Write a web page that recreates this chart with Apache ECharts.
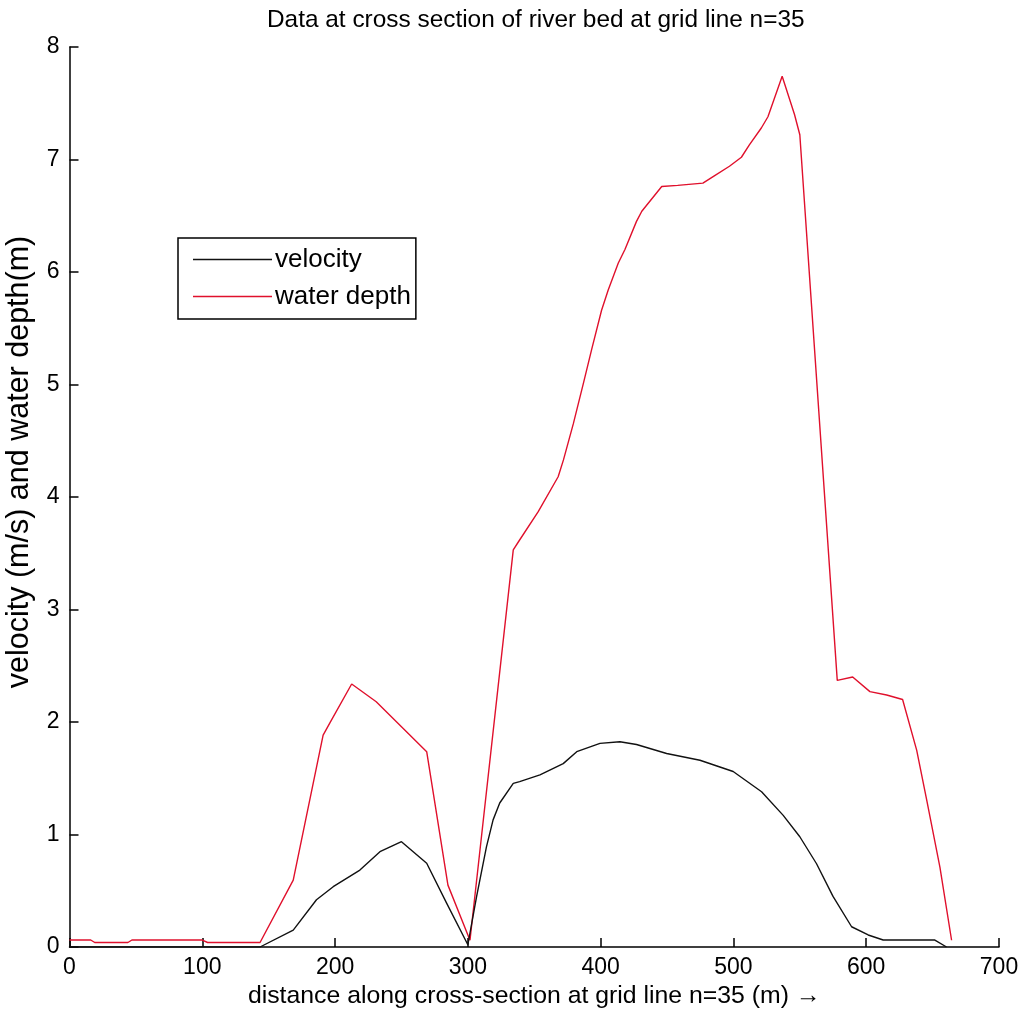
<!DOCTYPE html>
<html>
<head>
<meta charset="utf-8">
<script src="https://cdn.jsdelivr.net/npm/echarts@6/dist/echarts.min.js"></script>
<style>html,body{margin:0;padding:0;background:#fff}#c{width:1025px;height:1019px}</style>
</head>
<body>
<div id="c"></div>
<script>
// distance along cross-section (m) and water depth (m)
const depthX = [0, 16, 19, 44, 47, 100, 104, 143.5, 168.5, 191, 196, 212.5, 231, 269, 285, 301.6,
  334.2, 338, 353, 368, 372, 379.4, 387, 393.2, 400.7, 405.7, 413.3, 418.3, 427, 431, 446, 458,
  477, 485, 497, 506, 512, 521, 526, 536.7, 546, 550, 578.2, 589.8, 602.8, 615.4, 627.4, 638, 645.5,
  655.5, 664.3];
const depthY = [0.062, 0.062, 0.04, 0.04, 0.062, 0.062, 0.04, 0.04, 0.595, 1.884, 1.99, 2.338, 2.18, 1.736, 0.55, 0.06,
  3.53, 3.6, 3.87, 4.18, 4.33, 4.65, 5.01, 5.31, 5.66, 5.84, 6.08, 6.2, 6.45, 6.54, 6.76, 6.77,
  6.79, 6.85, 6.94, 7.02, 7.13, 7.28, 7.38, 7.74, 7.4, 7.22, 2.37, 2.40, 2.27, 2.24, 2.20, 1.75, 1.31,
  0.71, 0.06];
// distance along cross-section (m) and velocity (m/s)
const velX = [0, 143.5, 168.5, 186, 198.6, 218.7, 233.8, 250, 269, 284, 300, 306.6, 314, 319, 324, 334.2, 339,
  354.3, 371.8, 382, 399.5, 414.5, 427, 449.7, 474.8, 489.8, 499.8, 521.2, 537.5, 550, 562.6, 575, 589,
  601.5, 612.8, 651.7, 660.5];
const velY = [0, 0, 0.15, 0.42, 0.536, 0.684, 0.847, 0.936, 0.744, 0.39, 0.02, 0.45, 0.89, 1.13, 1.28, 1.455, 1.47,
  1.53, 1.63, 1.736, 1.81, 1.825, 1.80, 1.72, 1.66, 1.60, 1.56, 1.38, 1.17, 0.98, 0.74, 0.45, 0.18,
  0.107, 0.062, 0.062, 0];
const seriesNames = ['velocity', 'water depth'];
const titleText = 'Data at cross section of river bed at grid line n=35';
const xName = 'distance along cross-section at grid line n=35 (m) \u2192';
const yName = 'velocity (m/s) and water depth(m)';

const font = '"Liberation Sans", Arial, sans-serif';
const pairs = (xs, ys) => xs.map((x, i) => [x, ys[i]]);

const chart = echarts.init(document.getElementById('c'));
chart.setOption({
  backgroundColor: '#fff',
  animation: false,
  title: {
    text: titleText, left: 262, top: 3,
    textStyle: { fontFamily: font, fontSize: 24.4, fontWeight: 'normal', color: '#000' }
  },
  legend: {
    orient: 'vertical', left: 178, top: 238,
    data: seriesNames,
    icon: 'rect', itemWidth: 79, itemHeight: 1.6, itemGap: 11,
    padding: [8.5, 5, 9.5, 15],
    borderColor: '#000', borderWidth: 1.5, backgroundColor: '#fff',
    textStyle: { fontFamily: font, fontSize: 26, color: '#000', lineHeight: 22, padding: [0, 0, 0, -2] }
  },
  grid: { left: 69.5, right: 26, top: 47, bottom: 72, containLabel: false, outerBoundsMode: 'none' },
  xAxis: {
    type: 'value', min: 0, max: 700, interval: 100,
    name: xName, nameLocation: 'middle', nameGap: 35,
    nameTextStyle: { fontFamily: font, fontSize: 24.8, color: '#000' },
    axisLine: { show: true, lineStyle: { color: '#000', width: 1.5 } },
    axisTick: { show: true, inside: true, length: 9, lineStyle: { color: '#000', width: 1.5 } },
    axisLabel: { fontFamily: font, fontSize: 23, color: '#000', margin: 9 },
    splitLine: { show: false }
  },
  yAxis: {
    type: 'value', min: 0, max: 8, interval: 1,
    name: yName, nameLocation: 'middle', nameGap: 34,
    nameTextStyle: { fontFamily: font, fontSize: 30.5, color: '#000', padding: [0, 0, 0, 70] },
    axisLine: { show: true, lineStyle: { color: '#000', width: 1.5 } },
    axisTick: { show: true, inside: true, length: 9, lineStyle: { color: '#000', width: 1.5 } },
    axisLabel: { fontFamily: font, fontSize: 23, color: '#000', margin: 10 },
    splitLine: { show: false }
  },
  series: [
    {
      name: seriesNames[0], type: 'line', data: pairs(velX, velY),
      showSymbol: false, symbol: 'none', color: '#111',
      lineStyle: { color: '#111', width: 1.4 }, z: 3
    },
    {
      name: seriesNames[1], type: 'line', data: pairs(depthX, depthY),
      showSymbol: false, symbol: 'none', color: '#e0102c',
      lineStyle: { color: '#e0102c', width: 1.4 }, z: 2
    }
  ]
});
</script>
</body>
</html>
